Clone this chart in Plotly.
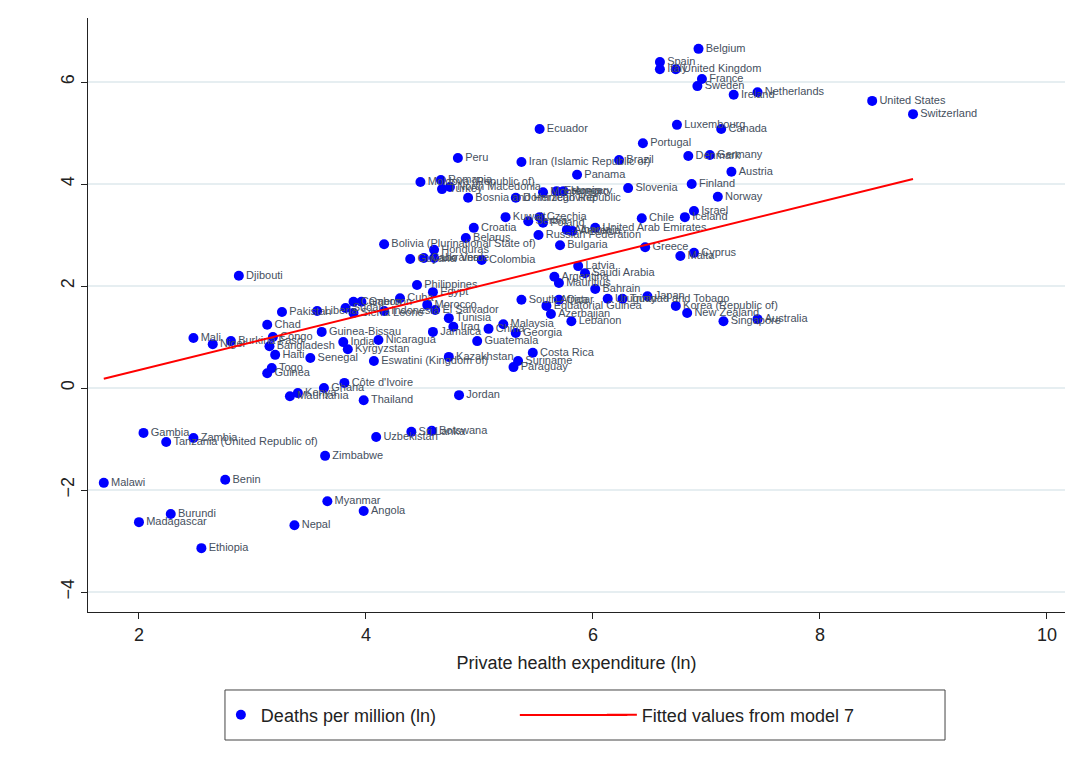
import plotly.graph_objects as go

countries = [
    "Belgium", "Spain", "Italy", "United Kingdom", "France", "Sweden", "Ireland", "Netherlands",
    "United States", "Switzerland", "Luxembourg", "Canada", "Portugal", "Ecuador", "Peru",
    "Iran (Islamic Republic of)", "Brazil", "Denmark", "Germany", "Panama", "Austria", "Slovenia",
    "Finland", "Norway", "Moldova (Republic of)", "Romania", "Turkey", "North Macedonia",
    "Bosnia and Herzegovina", "Dominican Republic", "Montenegro", "Estonia", "Hungary", "Israel",
    "Iceland", "Chile", "Greece", "Malta", "Cyprus", "Kuwait", "Serbia", "Czechia", "Poland",
    "Albania", "Armenia", "United Arab Emirates", "Russian Federation", "Bulgaria", "Croatia",
    "Belarus", "Bolivia (Plurinational State of)", "Honduras", "Guyana", "Cabo Verde", "Ukraine",
    "Colombia", "Latvia", "Saudi Arabia", "Argentina", "Mauritius", "Philippines", "Egypt",
    "Bahrain", "South Africa", "Equatorial Guinea", "Qatar", "Uruguay", "Trinidad and Tobago",
    "Japan", "Korea (Republic of)", "New Zealand", "Singapore", "Australia", "Azerbaijan",
    "Lebanon", "Tunisia", "Iraq", "Malaysia", "China", "Georgia", "Jamaica", "Guatemala",
    "Nicaragua", "Costa Rica", "Kazakhstan", "Suriname", "Paraguay", "Eswatini (Kingdom of)",
    "Pakistan", "Liberia", "Sudan", "Cameroon", "Gabon", "Sierra Leone", "Indonesia", "Cuba",
    "Morocco", "El Salvador", "Chad", "Guinea-Bissau", "Mali", "Niger", "Burkina Faso", "Congo",
    "Bangladesh", "India", "Kyrgyzstan", "Haiti", "Senegal", "Togo", "Guinea", "Djibouti",
    "Kenya", "Mauritania", "Ghana", "Côte d'Ivoire", "Thailand", "Jordan", "Gambia", "Zambia",
    "Tanzania (United Republic of)", "Uzbekistan", "Sri Lanka", "Botswana", "Zimbabwe", "Malawi",
    "Benin", "Myanmar", "Angola", "Burundi", "Madagascar", "Nepal", "Ethiopia",
]

private_health_exp_ln = [
    6.93, 6.59, 6.59, 6.73, 6.96, 6.92, 7.24, 7.45,
    8.46, 8.82, 6.74, 7.13, 6.44, 5.53, 4.81,
    5.37, 6.23, 6.84, 7.03, 5.86, 7.22, 6.31,
    6.87, 7.10, 4.48, 4.66, 4.67, 4.74,
    4.90, 5.32, 5.56, 5.68, 5.74, 6.89,
    6.81, 6.43, 6.46, 6.77, 6.89, 5.23, 5.43, 5.53, 5.56,
    5.77, 5.82, 6.02, 5.52, 5.71, 4.95,
    4.88, 4.16, 4.60, 4.39, 4.51, 4.60,
    5.02, 5.87, 5.93, 5.66, 5.70, 4.45, 4.59,
    6.02, 5.37, 5.59, 5.70, 6.13, 6.26,
    6.48, 6.73, 6.83, 7.15, 7.45, 5.63,
    5.81, 4.73, 4.77, 5.21, 5.08, 5.32, 4.59, 4.98,
    4.11, 5.47, 4.73, 5.34, 5.30, 4.07,
    3.26, 3.57, 3.82, 3.89, 3.96, 3.89, 4.16, 4.30,
    4.54, 4.61, 3.13, 3.61, 2.48, 2.65, 2.81, 3.18,
    3.15, 3.80, 3.84, 3.20, 3.51, 3.17, 3.13, 2.88,
    3.40, 3.33, 3.63, 3.81, 3.98, 4.82, 2.04, 2.48,
    2.24, 4.09, 4.40, 4.58, 3.64, 1.69,
    2.76, 3.66, 3.98, 2.28, 2.00, 3.37, 2.55,
]

deaths_per_million_ln = [
    6.65, 6.39, 6.25, 6.25, 6.06, 5.92, 5.75, 5.80,
    5.63, 5.37, 5.16, 5.08, 4.80, 5.08, 4.51,
    4.43, 4.47, 4.55, 4.57, 4.18, 4.24, 3.92,
    4.00, 3.75, 4.04, 4.08, 3.90, 3.94,
    3.73, 3.73, 3.84, 3.86, 3.86, 3.47,
    3.35, 3.33, 2.76, 2.59, 2.65, 3.35, 3.27, 3.35, 3.24,
    3.10, 3.08, 3.14, 3.00, 2.80, 3.14,
    2.94, 2.82, 2.71, 2.53, 2.55, 2.55,
    2.51, 2.39, 2.25, 2.18, 2.06, 2.02, 1.88,
    1.94, 1.73, 1.61, 1.73, 1.75, 1.75,
    1.80, 1.61, 1.47, 1.31, 1.35, 1.45,
    1.31, 1.37, 1.20, 1.25, 1.16, 1.08, 1.10, 0.92,
    0.94, 0.69, 0.61, 0.53, 0.41, 0.53,
    1.49, 1.51, 1.57, 1.69, 1.69, 1.47, 1.51, 1.76,
    1.63, 1.53, 1.24, 1.10, 0.98, 0.86, 0.92, 1.00,
    0.82, 0.90, 0.76, 0.65, 0.59, 0.39, 0.29, 2.20,
    -0.10, -0.16, 0.00, 0.10, -0.24, -0.14, -0.88, -0.98,
    -1.06, -0.96, -0.86, -0.84, -1.33, -1.86,
    -1.80, -2.22, -2.41, -2.47, -2.63, -2.69, -3.14,
]

fitted_x = [1.69, 8.82]
fitted_y = [0.18, 4.10]

x_ticks = [2, 4, 6, 8, 10]
y_ticks = [-4, -2, 0, 2, 4, 6]

FONT = "Liberation Sans, Arial, sans-serif"

fig = go.Figure()
fig.add_trace(go.Scatter(
    x=private_health_exp_ln, y=deaths_per_million_ln,
    mode="markers+text", text=countries, textposition="middle right",
    textfont=dict(family=FONT, size=11, color="#46505e"),
    marker=dict(color="#0000ff", size=10),
    name="Deaths per million (ln)",
    cliponaxis=False,
))
fig.add_trace(go.Scatter(
    x=fitted_x, y=fitted_y, mode="lines",
    line=dict(color="#ff0000", width=2),
    name="Fitted values from model 7",
))

# legend frame (paper coordinates)
fig.add_shape(type="rect", xref="paper", yref="paper",
              x0=0.1402, x1=0.8772, y0=-0.2155, y1=-0.1313,
              line=dict(color="#444444", width=1), fillcolor="rgba(0,0,0,0)")
# longer key line for the fitted-values entry
fig.add_shape(type="line", xref="paper", yref="paper",
              x0=0.442, x1=0.552, y0=-0.1734, y1=-0.1734,
              line=dict(color="#ff0000", width=2))

fig.update_layout(
    width=1073, height=766,
    paper_bgcolor="white", plot_bgcolor="white",
    margin=dict(l=80, r=16, t=10, b=162, autoexpand=False),
    font=dict(family=FONT, size=18, color="#333333"),
    showlegend=True,
    legend=dict(
        orientation="h", x=0.136, xanchor="left", y=-0.1734, yanchor="middle",
        borderwidth=0, font=dict(size=18, color="#222222"),
        entrywidth=336, entrywidthmode="pixels", bgcolor="rgba(0,0,0,0)",
    ),
    xaxis=dict(
        range=[1.551, 10.159], tickvals=x_ticks, showgrid=False, zeroline=False,
        showline=True, linecolor="#222222", linewidth=1, ticks="outside", ticklen=6,
        tickcolor="#222222", tickfont=dict(size=18, color="#222222"), automargin=False,
        title=dict(text="Private health expenditure (ln)", font=dict(size=18, color="#222222"), standoff=12),
    ),
    yaxis=dict(
        range=[-4.392, 7.255], tickvals=y_ticks, showgrid=True, gridcolor="#e6eef1",
        gridwidth=1.5, zeroline=False, automargin=False,
        showline=True, linecolor="#222222", linewidth=1, ticks="outside", ticklen=6,
        tickcolor="#222222", tickangle=-90, tickfont=dict(size=18, color="#222222"),
    ),
)

fig.write_html("out.html")
